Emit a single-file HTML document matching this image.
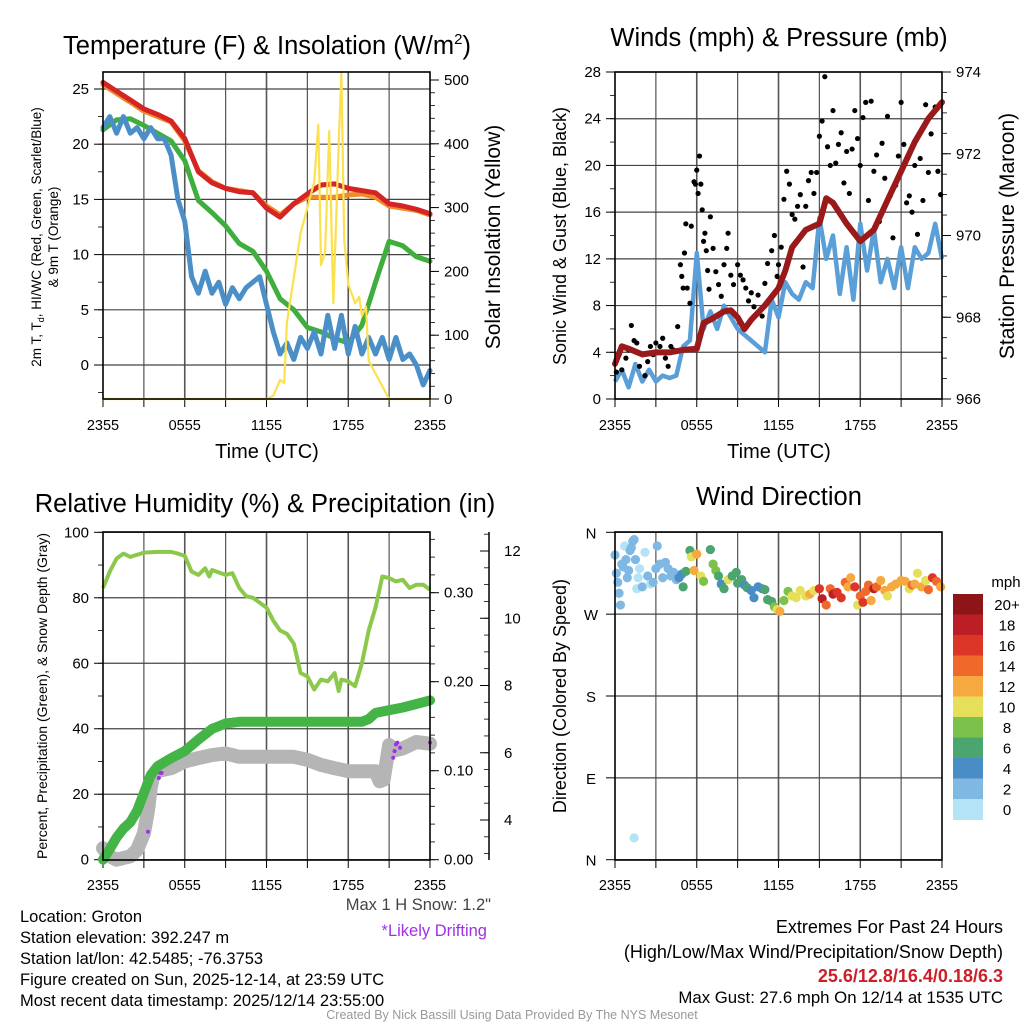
<!DOCTYPE html>
<html><head><meta charset="utf-8"><style>
html,body{margin:0;padding:0;background:#fff}
svg{display:block;font-family:"Liberation Sans",sans-serif}
</style></head><body>
<svg id="root" width="1024" height="1024" viewBox="0 0 1024 1024">
<g id="p1"></g>
<g id="p2"></g>
<g id="p3"></g>
<g id="p4"></g>
<g font-size="16.5" fill="#000">
<text x="20" y="922">Location: Groton</text>
<text x="20" y="943">Station elevation: 392.247 m</text>
<text x="20" y="964">Station lat/lon: 42.5485; -76.3753</text>
<text x="20" y="985">Figure created on Sun, 2025-12-14, at 23:59 UTC</text>
<text x="20" y="1006">Most recent data timestamp: 2025/12/14 23:55:00</text>
<text x="491" y="910" text-anchor="end" fill="#444">Max 1 H Snow: 1.2"</text>
<text x="487" y="936" text-anchor="end" fill="#a030e8">*Likely Drifting</text>
<text x="1003" y="933" text-anchor="end" font-size="18">Extremes For Past 24 Hours</text>
<text x="1003" y="958" text-anchor="end" font-size="18">(High/Low/Max Wind/Precipitation/Snow Depth)</text>
<text x="1003" y="982" text-anchor="end" font-size="18" fill="#cc1f2a" font-weight="bold">25.6/12.8/16.4/0.18/6.3</text>
<text x="1003" y="1003" text-anchor="end" font-size="16.8">Max Gust: 27.6 mph On 12/14 at 1535 UTC</text>
<text x="512" y="1019" text-anchor="middle" font-size="12.5" fill="#999">Created By Nick Bassill Using Data Provided By The NYS Mesonet</text>
</g>
</svg>
<script>
// ---------- data ----------
const hoursHourly=[0,1,2,3,4,5,6,7,8,9,10,11,12,13,14,15,16,17,18,19,20,21,22,23,24];
const tempRed=[25.6,24.8,24.0,23.2,22.7,22.1,20.5,17.5,16.5,16.0,15.7,15.6,14.2,13.4,14.6,15.5,16.3,16.4,16.0,15.8,15.6,14.6,14.4,14.1,13.7];
const tempOrange=[25.4,24.6,23.8,23.0,22.5,22.0,20.3,17.6,16.6,16.0,15.8,15.6,14.4,13.6,14.6,15.2,15.2,15.2,15.4,15.5,15.2,14.4,14.2,14.0,13.6];
const tempGreen=[21.3,22.2,22.3,21.7,21.0,20.3,18.5,14.9,13.8,12.6,11.0,10.3,8.5,6.0,5.0,3.4,3.0,2.4,2.0,3.6,7.5,11.2,10.8,9.8,9.4];
const dewBlue=[21.5,22.5,21,22.5,21,21.5,20.5,21.5,20.5,20.5,19,15,13,8,6.5,8.5,6.5,7.5,5.5,7,6,7,7.5,8,5.5,3,1,2,0.5,2.5,1.5,3,1,4.5,1.5,4.5,1,3.5,1,2.5,1,2.5,0.5,2.5,0.5,1,0,-1.8,-0.5];
const solarHours=[0,12,12.5,13,13.3,13.5,14,14.5,15,15.5,15.8,16,16.3,16.6,16.9,17.3,17.5,17.7,18,18.5,18.8,19,19.3,19.5,20,20.5,21,24];
const solarVals=[0,0,5,30,25,120,190,260,300,340,430,210,230,420,150,400,510,250,180,150,160,130,145,60,40,20,0,0];
const tempTicks=[0,5,10,15,20,25];
const solarTicks=[0,100,200,300,400,500];
const timeTickLabels=["2355","0555","1155","1755","2355"];

const windBlue=[1.5,2.5,1,3,1.5,2.5,1.5,2,1.8,2,4.5,5,12.5,6,7.5,6,8,7,6,5.5,5,4.5,4,8.5,7,10,9,8.5,10,9.5,15.5,12,14,9,13,8.5,15,11,14.5,10,12,9.5,13,9.5,13,12,12.5,15,12];
const gustHours=[0.1,0.3,0.5,0.8,1,1.2,1.4,1.6,1.8,2,2.2,2.4,2.6,2.8,3,3.3,3.5,3.7,3.9,4.1,4.3,4.6,4.8,4.9,5,5.1,5.2,5.3,5.5,5.6,5.8,5.9,6,6.1,6.2,6.3,6.4,6.5,6.6,6.7,6.8,6.9,7,7.2,7.4,7.6,7.8,8,8.2,8.3,8.5,8.7,9,9.2,9.4,9.6,9.8,10,10.2,10.5,10.8,11,11.2,11.5,11.7,11.9,12,12.2,12.4,12.6,12.8,13,13.2,13.4,13.6,13.8,14,14.2,14.4,14.6,14.8,15,15.2,15.4,15.6,15.8,16,16.2,16.4,16.6,16.8,17,17.2,17.4,17.6,17.8,18,18.2,18.4,18.6,18.8,19,19.2,19.4,19.6,19.8,20,20.2,20.4,20.6,20.8,21,21.2,21.4,21.6,21.8,22,22.2,22.4,22.6,22.8,23,23.2,23.5,23.7,23.9];
const gustVals=[2.3,3.8,2.5,3.5,4.2,6.3,5,4.8,2.8,3.8,2,3.2,4.5,3.8,4.8,4.5,5.2,3.5,2.8,4.5,4.2,6.2,11.5,10.5,9.5,12.5,15,9.5,8.2,14.8,18.6,18.4,19.6,17.6,20.8,18.4,16.2,13.5,14.2,12.7,11,9.4,15.6,12.9,10.9,9.8,8.8,11.5,12.9,14.2,10.6,9.8,11.5,10.6,10.2,9.5,8.4,9.1,7.9,8.9,7.1,9.9,11.6,12.7,14,10.5,11.5,13,17.1,19.5,18.4,15.8,15.4,16.5,17.5,11.3,16.5,18.7,19.4,17.6,19.4,22.5,23.8,27.6,21.6,20,24.7,20.2,21.8,22.8,18.5,21.2,17.6,21.4,24.7,22.3,20,24.1,25.4,17,25.5,19.5,20.9,15.2,21.9,18.9,24.2,17.4,13.8,18.3,20.8,25.4,21.8,16.8,17.4,16,20,14.1,20.6,17,25.2,19.4,22.7,25,19.5,17.5];
const presHours=[0,0.5,1,2,3,4,5,6,6.5,7,8,8.5,9,9.5,10,11,12,12.5,13,14,15,15.5,16,17,18,19,20,21,22,23,24];
const presVals=[966.86,967.29,967.23,967.09,967.14,967.14,967.2,967.23,967.86,967.94,968.14,968.17,968.0,967.71,967.94,968.29,968.71,969.14,969.71,970.14,970.29,970.91,970.8,970.29,969.86,970.14,970.86,971.57,972.29,972.86,973.26];
const windTicks=[0,4,8,12,16,20,24,28];
const presTicks=[966,968,970,972,974];

const rhHours=[0,0.5,1,1.5,2,3,4,5,5.5,6,6.5,7,7.5,7.8,8,9,9.5,10,10.5,11,12,12.5,13,13.5,14,14.5,15,15.5,16,16.5,17,17.3,17.5,18,18.5,19,19.5,20,20.5,21,21.5,22,22.5,23,23.5,24];
const rhVals=[83,88,92,93.5,92.5,93.8,94,94,93.5,92.8,88,87,89,86.5,88.5,87,87.5,83,80.5,80,77,73,70,69,66,57,56,52,55,54.5,57,51.5,55,54.5,53,60,70,77,86.5,86,85,85.5,83,84,84,82.5];
const precipHours=[0,0.5,1,1.5,2,2.5,3,3.5,4,5,6,7,8,9,10,19,19.5,20,21,22,23,24];
const precipVals=[0,0.012,0.025,0.035,0.042,0.055,0.075,0.095,0.105,0.114,0.122,0.135,0.147,0.153,0.155,0.155,0.158,0.165,0.168,0.171,0.175,0.179];
const snowHours=[0,0.5,1,1.5,2,2.5,3,3.3,3.5,3.7,4,5,6,7,8,9,10,12,14,15,16,17,18,20,20.3,20.6,21,21.5,22,23,24];
const snowVals=[3.16,2.92,2.82,2.87,2.92,3.11,3.60,4.28,4.96,5.35,5.45,5.54,5.74,5.84,5.93,5.98,5.88,5.88,5.88,5.79,5.64,5.54,5.45,5.45,5.15,5.20,6.23,6.08,6.13,6.32,6.27];
const driftHours=[3.3,4.1,4.2,4.3,21.3,21.4,21.5,21.6,21.8,24];
const driftVals=[3.65,5.25,5.4,5.4,5.85,6.05,6.25,6.3,6.15,6.3];
const rhTicks=[0,20,40,60,80,100];
const precipTicks=[0,0.1,0.2,0.3];
const precipTickLabels=["0.00","0.10","0.20","0.30"];
const snowTicks=[4,6,8,10,12];

const dirHours=[0,0.1,0.2,0.3,0.4,0.5,0.6,0.7,0.8,0.9,1,1.1,1.2,1.3,1.4,1.5,1.6,1.7,1.8,2,2.2,2.4,2.6,2.8,3,3.1,3.3,3.5,3.7,3.9,4.1,4.3,4.5,4.7,4.9,5,5.2,5.5,5.6,5.8,6,6.3,6.5,7,7.2,7.4,7.6,7.8,8,8.3,8.6,8.9,9,9.3,9.5,9.7,10,10.2,10.5,10.8,11,11.2,11.5,11.7,11.9,12.1,12.4,12.7,13,13.3,13.6,14,14.3,14.6,15,15.2,15.5,15.8,16,16.3,16.6,16.9,17.1,17.3,17.6,17.8,18,18.2,18.4,18.6,18.8,19,19.2,19.5,19.8,20,20.3,20.6,21,21.3,21.6,21.8,22,22.2,22.5,22.8,23,23.3,23.6,23.9,1.4];
const dirVals=[335,315,305,293,280,325,322,345,330,310,318,340,343,350,352,330,298,310,320,300,338,312,303,305,320,345,325,310,327,320,312,316,308,310,314,300,317,340,333,318,336,312,306,341,325,318,312,303,298,308,312,316,304,308,302,299,296,288,300,298,297,286,284,278,275,273,285,295,290,288,296,290,292,296,298,287,280,298,292,294,288,305,300,310,300,280,290,283,295,302,285,298,300,307,296,290,300,303,307,306,298,302,303,315,300,307,297,310,306,300,24];
const dirSpeeds=[2,2.5,2,2,2,2,2,1,2,2,2,2,2,2,2,2,1,1,1,2,1,2,1,2,2,2,2,2,2,2,2,2,3,4,4,6,6,6,10,12,12,10,8,6,8,8,6,4,6,10,6,6,6,6,4,6,4,4,4,4,6,6,6,8,10,12,8,8,10,10,10,10,12,10,16,18,14,14,18,16,16,14,12,12,16,10,14,16,14,14,12,18,14,12,12,10,12,12,12,12,10,14,12,10,12,10,14,16,14,12,0];
const dirTicks=[0,90,180,270,360];
const dirTickLabels=["N","E","S","W","N"];
const speedBins=["0","2","4","6","8","10","12","14","16","18","20+"];
const speedColors=["#b5e3f6","#7fb9e3","#4a8cc5","#4aa56f","#7cc14a","#e6df5a","#f7a941","#ef6a2a","#dc3628","#bb1e24","#8d1518"];

// ---------- helpers ----------
const NS="http://www.w3.org/2000/svg";
function mk(parent,tag,attrs,txt){const e=document.createElementNS(NS,tag);for(const k in attrs)e.setAttribute(k,attrs[k]);if(txt!==undefined)e.textContent=txt;parent.appendChild(e);return e;}
function scale(d0,d1,r0,r1){return v=>r0+(v-d0)*(r1-r0)/(d1-d0);}
function pathD(xs,ys,fx,fy){return xs.map((h,i)=>(i?"L":"M")+fx(h).toFixed(1)+","+fy(ys[i]).toFixed(1)).join("");}

function frame(g,X0,X1,Y0,Y1,fx,fyGrid,gridVals,xLabelY){
  for(let h=3;h<24;h+=3){const l=mk(g,"line",{x1:fx(h),x2:fx(h),y1:Y0,y2:Y1,stroke:"#555","stroke-width":h%6?1.2:1.6});
    }
  gridVals.forEach(v=>{const l=mk(g,"line",{x1:X0,x2:X1,y1:fyGrid(v),y2:fyGrid(v),stroke:"#444","stroke-width":1.2});
    });
  for(let h=0;h<=24;h+=3){const t=mk(g,"line",{x1:fx(h),x2:fx(h),y1:Y1,y2:Y1+8,stroke:"#000","stroke-width":1});
    }
  timeTickLabels.forEach((s,i)=>{const t=mk(g,"text",{x:fx(i*6),y:xLabelY,"text-anchor":"middle","font-size":14.5},s);
    });
}
function border(g,X0,X1,Y0,Y1){
  const r=mk(g,"rect",{x:X0,y:Y0,width:X1-X0,height:Y1-Y0,fill:"none",stroke:"#000","stroke-width":1.6});
  
}
function leftTicks(g,X0,fy,vals,labels,fs){
  vals.forEach((v,i)=>{mk(g,"line",{x1:X0-9,x2:X0,y1:fy(v),y2:fy(v),stroke:"#000"});
    const t=mk(g,"text",{x:X0-14,y:fy(v)+5,"text-anchor":"end","font-size":fs||15},labels?labels[i]:v);
    });
}
function rightTicks(g,X1,fy,vals,labels,minorStep,lo,hi){
  if(minorStep){for(let v=lo;v<=hi+1e-9;v+=minorStep)mk(g,"line",{x1:X1,x2:X1+5,y1:fy(v),y2:fy(v),stroke:"#000","stroke-width":0.8});}
  vals.forEach((v,i)=>{mk(g,"line",{x1:X1,x2:X1+9,y1:fy(v),y2:fy(v),stroke:"#000"});
    const t=mk(g,"text",{x:X1+14,y:fy(v)+5,"font-size":15},labels?labels[i]:v);
    });
}
function title(g,x,y,txt,name){const t=mk(g,"text",{x:x,y:y,"text-anchor":"middle","font-size":25.5});t.innerHTML=txt;
  return t;}
function vlabel(g,x,y,txt,fs,name){const t=mk(g,"text",{x:x,y:y,"text-anchor":"middle","font-size":fs,transform:`rotate(-90 ${x} ${y})`});t.innerHTML=txt;
  return t;}

// ---------- panel 1 ----------
(function(){
 const g=document.getElementById("p1");
 const X0=103,X1=430,Y0=72,Y1=399;
 const fx=scale(0,24,X0,X1), fy=scale(0,25,365,89), fs=scale(0,500,399,80);
 frame(g,X0,X1,Y0,Y1,fx,fy,tempTicks,430);
 leftTicks(g,X0,fy,tempTicks);
 for(let v=-2.5;v<26;v+=2.5)mk(g,"line",{x1:X0-5,x2:X0,y1:fy(v),y2:fy(v),stroke:"#000","stroke-width":0.8});
 rightTicks(g,X1,fs,solarTicks,null,20,0,500);
 const halfHours=dewBlue.map((_,i)=>i*0.5);
 const s=[["temp-orange-9m",tempOrange,"#f08a2a",hoursHourly],["temp-green-hiwc",tempGreen,"#3fae3c",hoursHourly],["dewpoint-blue",dewBlue,"#4a8fc8",halfHours],["temp-red-2m",tempRed,"#d42424",hoursHourly]];
 s.forEach(([n,v,c,hx])=>{const p=mk(g,"path",{d:pathD(hx,v,fx,fy),fill:"none",stroke:c,"stroke-width":5,"stroke-linejoin":"round","stroke-linecap":"round"});
   });
 const sp=mk(g,"path",{d:pathD(solarHours,solarVals,fx,fs),fill:"none",stroke:"#fde04d","stroke-width":2.2,"stroke-linejoin":"round"});
 
 border(g,X0,X1,Y0,Y1);
 title(g,267,54,'Temperature (F) &amp; Insolation (W/m<tspan font-size="15" dy="-10">2</tspan><tspan dy="10">)</tspan>','temperature-title');
 const xt=mk(g,"text",{x:267,y:458,"text-anchor":"middle","font-size":20},"Time (UTC)");
 vlabel(g,41,237,'2m T, T<tspan font-size="9" dy="3">d</tspan><tspan dy="-3">, HI/WC (Red, Green, Scarlet/Blue)</tspan>',13.5,'y-axis-title');
 vlabel(g,58,237,'&amp; 9m T (Orange)',13.5,'y-axis-title-line2');
 vlabel(g,500,237,'Solar Insolation (Yellow)',21,'right-axis-title');
})();

// ---------- panel 2 ----------
(function(){
 const g=document.getElementById("p2");
 const X0=615,X1=942,Y0=72,Y1=399;
 const fx=scale(0,24,X0,X1), fy=scale(0,28,399,72), fp=scale(966,974,399,72);
 frame(g,X0,X1,Y0,Y1,fx,fy,windTicks,430);
 leftTicks(g,X0,fy,windTicks);
 for(let v=0;v<=28;v+=2)mk(g,"line",{x1:X0-5,x2:X0,y1:fy(v),y2:fy(v),stroke:"#000","stroke-width":0.8});
 rightTicks(g,X1,fp,presTicks,null,0.5,966,974);
 const halfHours=windBlue.map((_,i)=>i*0.5);
 const wb=mk(g,"path",{d:pathD(halfHours,windBlue,fx,fy),fill:"none",stroke:"#5a9fd8","stroke-width":4.5,"stroke-linejoin":"round"});
 
 gustHours.forEach((h,i)=>{const c=mk(g,"circle",{cx:fx(h),cy:fy(gustVals[i]),r:2.6,fill:"#000"});
   });
 const pp=mk(g,"path",{d:pathD(presHours,presVals,fx,fp),fill:"none",stroke:"#9a1a1c","stroke-width":6,"stroke-linejoin":"round","stroke-linecap":"round"});
 
 border(g,X0,X1,Y0,Y1);
 title(g,779,46,'Winds (mph) &amp; Pressure (mb)','winds-title');
 const xt=mk(g,"text",{x:779,y:458,"text-anchor":"middle","font-size":20},"Time (UTC)");
 vlabel(g,566,236,'Sonic Wind &amp; Gust (Blue, Black)',18,'y-axis-title');
 vlabel(g,1014,236,'Station Pressure (Maroon)',21,'right-axis-title');
})();

// ---------- panel 3 ----------
(function(){
 const g=document.getElementById("p3");
 const X0=103,X1=430,Y0=532,Y1=860;
 const fx=scale(0,24,X0,X1), fy=scale(0,100,859.7,532.3), fpr=scale(0,0.1,859.7,770.7), fsn=scale(4,12,820,551);
 frame(g,X0,X1,Y0,Y1,fx,fy,rhTicks,890);
 leftTicks(g,X0,fy,rhTicks);
 for(let v=0;v<=100;v+=10)mk(g,"line",{x1:X0-5,x2:X0,y1:fy(v),y2:fy(v),stroke:"#000","stroke-width":0.8});
 rightTicks(g,X1,fpr,precipTicks,precipTickLabels,0.02,0,0.36);
 mk(g,"line",{x1:489,x2:489,y1:532,y2:860,stroke:"#000","stroke-width":1.5});
 for(let v=3;v<=12.5;v+=0.5)mk(g,"line",{x1:484,x2:489,y1:fsn(v),y2:fsn(v),stroke:"#000","stroke-width":0.8});
 snowTicks.forEach(v=>{mk(g,"line",{x1:480,x2:489,y1:fsn(v),y2:fsn(v),stroke:"#000"});
   const t=mk(g,"text",{x:504,y:fsn(v)+5,"font-size":15},v);});
 const sn=mk(g,"path",{d:pathD(snowHours,snowVals,fx,fsn),fill:"none",stroke:"#b5b5b5","stroke-width":14,"stroke-linejoin":"round","stroke-linecap":"round"});
 
 driftHours.forEach((h,i)=>{const c=mk(g,"circle",{cx:fx(h),cy:fsn(driftVals[i]),r:2,fill:"#a030e8"});
   });
 const pr=mk(g,"path",{d:pathD(precipHours,precipVals,fx,fpr),fill:"none",stroke:"#44b447","stroke-width":10,"stroke-linejoin":"round","stroke-linecap":"round"});
 
 const rh=mk(g,"path",{d:pathD(rhHours,rhVals,fx,fy),fill:"none",stroke:"#8cc84b","stroke-width":4,"stroke-linejoin":"round"});
 
 border(g,X0,X1,Y0,Y1);
 title(g,265,512,'Relative Humidity (%) &amp; Precipitation (in)','humidity-title');
 vlabel(g,47,696,'Percent, Precipitation (Green), &amp; Snow Depth (Gray)',14,'y-axis-title');
})();

// ---------- panel 4 ----------
(function(){
 const g=document.getElementById("p4");
 const X0=615,X1=942,Y0=532,Y1=860;
 const fx=scale(0,24,X0,X1), fy=scale(0,360,859.7,532.3);
 frame(g,X0,X1,Y0,Y1,fx,fy,dirTicks,890);
 dirTicks.forEach((v,i)=>{mk(g,"line",{x1:X0-9,x2:X0,y1:fy(v),y2:fy(v),stroke:"#000"});
   const t=mk(g,"text",{x:X0-24,y:fy(v)+6,"text-anchor":"middle","font-size":15},dirTickLabels[i]);
   });
 dirHours.forEach((h,i)=>{const b=Math.min(10,Math.floor(dirSpeeds[i]/2));
   const c=mk(g,"circle",{cx:fx(h),cy:fy(dirVals[i]),r:4.6,fill:speedColors[b]});
   });
 border(g,X0,X1,Y0,Y1);
 title(g,779,505,'Wind Direction','wind-direction-title');
 vlabel(g,566,696,'Direction (Colored By Speed)',18,'y-axis-title');
 const lt=mk(g,"text",{x:1006,y:587,"text-anchor":"middle","font-size":15},"mph");
 const top=594,h=20.5;
 speedBins.forEach((s,i)=>{const k=10-i;
   const r=mk(g,"rect",{x:953,y:top+i*h,width:30,height:h+0.5,fill:speedColors[k]});
   
   const t=mk(g,"text",{x:1007,y:top+i*h+16,"text-anchor":"middle","font-size":15},speedBins[k]);
   });
})();
</script>
</body></html>
